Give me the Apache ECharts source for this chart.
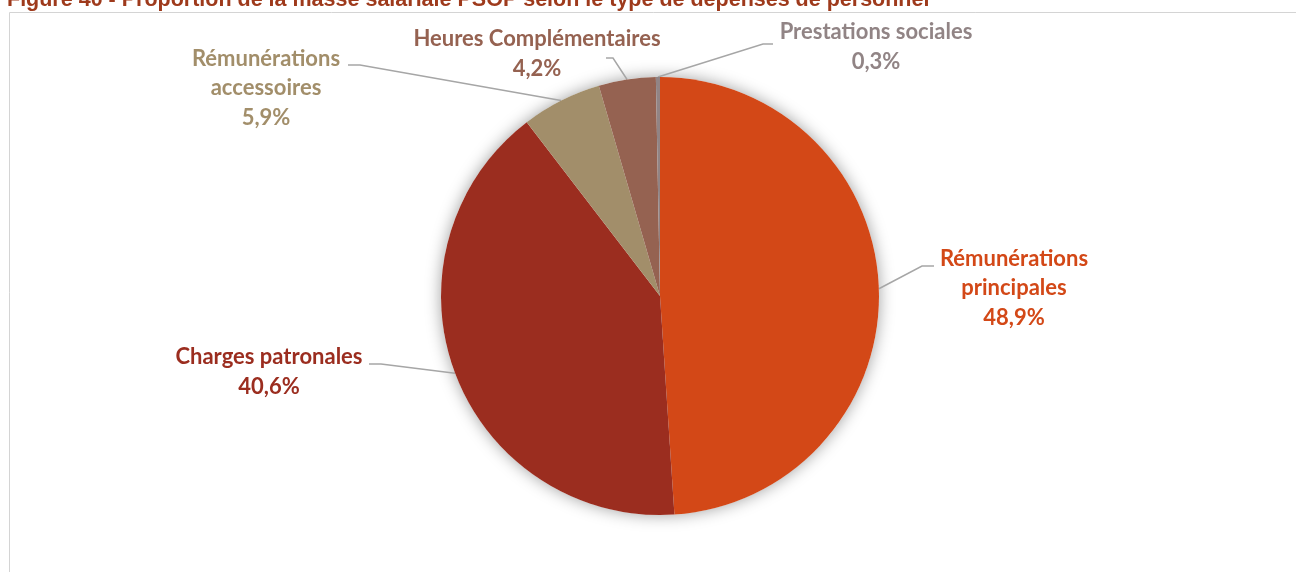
<!DOCTYPE html>
<html>
<head>
<meta charset="utf-8">
<script src="https://cdn.jsdelivr.net/npm/echarts@6/dist/echarts.min.js"></script>
<style>
html,body{margin:0;padding:0;background:#fff;}
#chart{width:1296px;height:572px;}
</style>
</head>
<body>
<div id="chart"></div>
<script>
const categories = ["Rémunérations principales", "Charges patronales", "Rémunérations accessoires", "Heures Complémentaires", "Prestations sociales"];
const labelLines = [["Rémunérations", "principales"], ["Charges patronales"], ["Rémunérations", "accessoires"], ["Heures Complémentaires"], ["Prestations sociales"]];
const values = [48.9, 40.6, 5.9, 4.2, 0.3];
const colors = ["#D34817", "#9B2D1F", "#A28E6A", "#956251", "#918485"];
const titleText = "Figure 40 - Proportion de la masse salariale PSOP selon le type de dépenses de personnel";

// label placement (block centre) and elbow points of leader lines
const labelPos = [
  {x: 1014, y: 288, elbow: [922, 266], end: [934, 266]},
  {x: 269, y: 372, elbow: [381, 364], end: [369, 364]},
  {x: 266, y: 88, elbow: [360, 65], end: [348, 65]},
  {x: 537, y: 54, elbow: [613, 58], end: [606, 58]},
  {x: 876, y: 47, elbow: [763, 44], end: [773, 44]}
];

const fmt = v => v.toFixed(1).replace('.', ',') + '%';
const chart = echarts.init(document.getElementById('chart'));
const total = values.reduce((a, b) => a + b, 0);

chart.setOption({
  animation: false,
  backgroundColor: '#ffffff',
  graphic: [
    {type: 'rect', shape: {x: 9.5, y: 12.5, width: 1300, height: 600}, style: {fill: 'none', stroke: '#D4D4D4', lineWidth: 1}, silent: true, z: 0},
    {type: 'text', x: 7, y: 11, style: {text: titleText, fill: '#9E3A1C', font: 'bold 21.5px "Liberation Sans", Arial, sans-serif', verticalAlign: 'bottom', align: 'left'}, silent: true}
  ],
  series: [
    {
      type: 'pie',
      silent: true,
      center: [660, 296],
      radius: 219,
      label: {show: false},
      labelLine: {show: false},
      itemStyle: {color: '#ffffff', shadowBlur: 16, shadowColor: 'rgba(0,0,0,0.38)'},
      data: [{value: total, name: 'shadow'}],
      z: 1
    },
    {
      type: 'pie',
      center: [660, 296],
      radius: 219,
      startAngle: 90,
      clockwise: true,
      z: 2,
      data: categories.map((c, i) => ({
        name: c,
        value: values[i],
        itemStyle: {color: colors[i]},
        label: {color: colors[i]}
      })),
      itemStyle: {borderWidth: 0},
      label: {
        show: true,
        position: 'outside',
        fontFamily: 'Lato, "Noto Sans", sans-serif',
        fontWeight: 'bold',
        fontSize: 22,
        lineHeight: 29.5,
        align: 'center',
        formatter: p => labelLines[p.dataIndex].join('\n') + '\n' + fmt(values[p.dataIndex])
      },
      labelLine: {show: true, lineStyle: {color: '#A6A6A6', width: 1.5}, length: 10, length2: 10},
      labelLayout: function (params) {
        const lp = labelPos[params.dataIndex];
        let start = params.labelLinePoints ? params.labelLinePoints[0] : lp.elbow;
        return {
          x: lp.x,
          y: lp.y,
          align: 'center',
          verticalAlign: 'middle',
          labelLinePoints: [start, lp.elbow, lp.end]
        };
      }
    }
  ]
});
</script>
</body>
</html>
